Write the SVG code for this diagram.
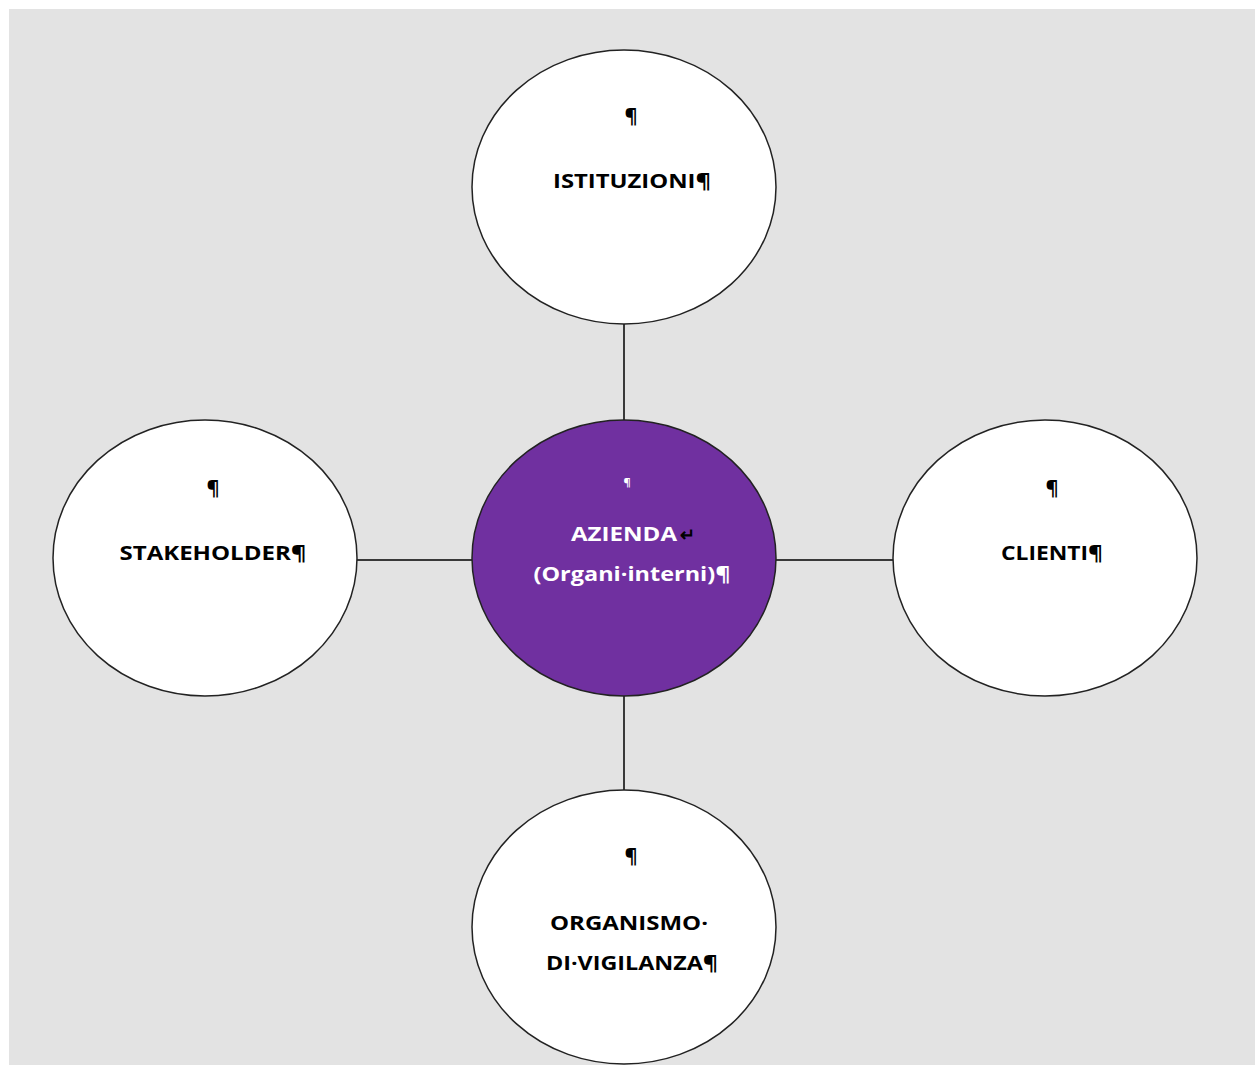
<svg xmlns="http://www.w3.org/2000/svg" width="1255" height="1065" viewBox="0 0 1255 1065">
  <style>
    .node { fill: #ffffff; stroke: #222222; stroke-width: 1.5; }
    .core { fill: #7030A0; stroke: #222222; stroke-width: 1.5; }
    .conn { stroke: #000000; stroke-width: 1.5; fill: none; }
    .lbl { font-family: "Open Sans", "Liberation Sans", sans-serif; font-weight: bold; font-size: 20px; fill: #000000; text-anchor: middle; }
    .wlbl { font-family: "Open Sans", "Liberation Sans", sans-serif; font-weight: bold; font-size: 20px; fill: #ffffff; text-anchor: middle; }
  </style>
  <rect x="0" y="0" width="1255" height="1065" fill="#ffffff"/>
  <rect x="9" y="9" width="1246" height="1056" fill="#e3e3e3"/>
  <g id="connectors">
    <line class="conn" x1="624" y1="324" x2="624" y2="420"/>
    <line class="conn" x1="624" y1="696" x2="624" y2="790"/>
    <line class="conn" x1="357" y1="560" x2="472" y2="560"/>
    <line class="conn" x1="776" y1="560" x2="893" y2="560"/>
  </g>
  <g id="istituzioni">
    <ellipse class="node" cx="624" cy="187" rx="152" ry="137"/>
    <text class="lbl" x="631" y="123">¶</text>
    <text class="lbl" x="632" y="188" textLength="158" lengthAdjust="spacingAndGlyphs">ISTITUZIONI¶</text>
  </g>
  <g id="stakeholder">
    <ellipse class="node" cx="205" cy="558" rx="152" ry="138"/>
    <text class="lbl" x="213" y="495">¶</text>
    <text class="lbl" x="213" y="560" textLength="187" lengthAdjust="spacingAndGlyphs">STAKEHOLDER¶</text>
  </g>
  <g id="clienti">
    <ellipse class="node" cx="1045" cy="558" rx="152" ry="138"/>
    <text class="lbl" x="1052" y="495">¶</text>
    <text class="lbl" x="1052" y="560" textLength="102" lengthAdjust="spacingAndGlyphs">CLIENTI¶</text>
  </g>
  <g id="azienda">
    <ellipse class="core" cx="624" cy="558" rx="152" ry="138"/>
    <text class="wlbl" x="627" y="486" style="font-size:11px">¶</text>
    <text class="wlbl" x="624" y="541" textLength="106" lengthAdjust="spacingAndGlyphs">AZIENDA</text>
    <text class="lbl" x="687" y="541" style="font-size:18px">↵</text>
    <text class="wlbl" x="632" y="581" textLength="197" lengthAdjust="spacingAndGlyphs">(Organi·interni)¶</text>
  </g>
  <g id="organismo">
    <ellipse class="node" cx="624" cy="927" rx="152" ry="137"/>
    <text class="lbl" x="631" y="863">¶</text>
    <text class="lbl" x="629" y="930" textLength="158" lengthAdjust="spacingAndGlyphs">ORGANISMO·</text>
    <text class="lbl" x="632" y="970" textLength="172" lengthAdjust="spacingAndGlyphs">DI·VIGILANZA¶</text>
  </g>
</svg>
